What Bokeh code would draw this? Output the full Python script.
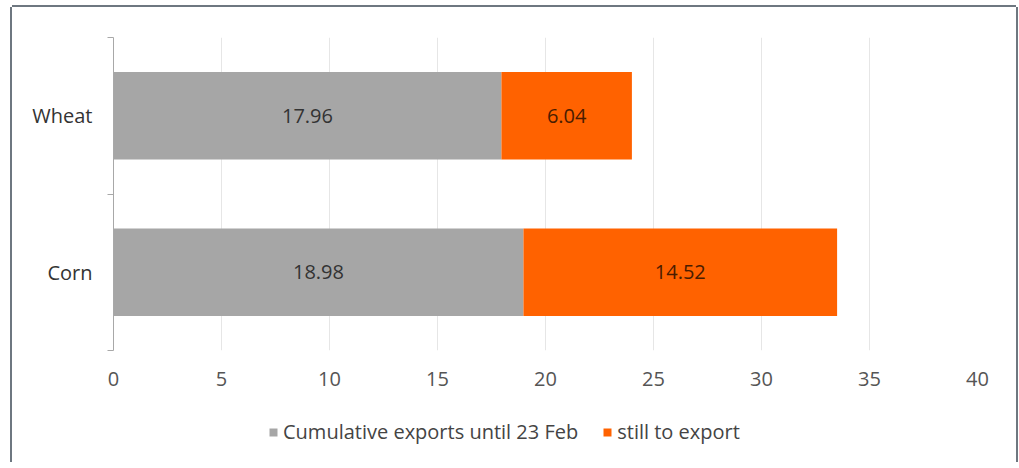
from bokeh.plotting import figure
from bokeh.layouts import column
from bokeh.models import (Range1d, LinearAxis, FixedTicker, Legend, LegendItem,
                          ColumnDataSource, LabelSet)
from bokeh.core.properties import value
from bokeh.embed import file_html
from bokeh.resources import INLINE

# ---- data ----
categories = ["Corn", "Wheat"]           # bottom to top
exported = [18.98, 17.96]                # Cumulative exports until 23 Feb
remaining = [14.52, 6.04]                # still to export
x_ticks = [0, 5, 10, 15, 20, 25, 30, 35, 40]
series_names = ["Cumulative exports until 23 Feb", "still to export"]

GREY = "#a6a6a6"
ORANGE = "#ff6200"
FONT = "Open Sans"
FS = "20px"

ypos = [i + 0.5 for i in range(len(categories))]
src = ColumnDataSource(dict(
    y=ypos,
    exp=exported,
    rem=remaining,
    total=[a + b for a, b in zip(exported, remaining)],
    exp_mid=[a / 2 for a in exported],
    rem_mid=[a + b / 2 for a, b in zip(exported, remaining)],
    exp_txt=[f"{v:.2f}" for v in exported],
    rem_txt=[f"{v:.2f}" for v in remaining],
))

W = 1004
p = figure(width=W, height=395, output_backend="svg", toolbar_location=None,
           x_range=Range1d(0, 40), y_range=Range1d(0, len(categories)),
           y_axis_location=None, x_axis_location=None,
           min_border_left=101, min_border_right=39, min_border_top=30,
           min_border_bottom=52)
p.outline_line_color = None
p.background_fill_color = "white"
p.border_fill_color = "white"

# grid
p.ygrid.visible = False
p.xgrid.ticker = FixedTicker(ticks=x_ticks)
p.xgrid.grid_line_color = "#e6e6e6"
p.xgrid.grid_line_width = 1

# bars
r1 = p.hbar(y="y", left=0, right="exp", height=0.56, source=src,
            fill_color=GREY, line_color=None)
r2 = p.hbar(y="y", left="exp", right="total", height=0.56, source=src,
            fill_color=ORANGE, line_color=None)

# value labels
for xcol, tcol, col in [("exp_mid", "exp_txt", "#333333"), ("rem_mid", "rem_txt", "#4a1c00")]:
    p.add_layout(LabelSet(x=xcol, y="y", text=tcol, source=src,
                          text_align="center", text_baseline="middle",
                          text_font=value(FONT), text_font_size=FS, text_color=col))

# x axis (labels only)
xax = LinearAxis(ticker=FixedTicker(ticks=x_ticks))
xax.axis_line_color = None
xax.major_tick_line_color = None
xax.minor_tick_line_color = None
xax.major_label_standoff = 15
xax.major_label_text_font = FONT
xax.major_label_text_font_size = FS
xax.major_label_text_color = "#555555"
p.add_layout(xax, "below")

# inner y axis: line + category-boundary ticks (no labels)
yax_ticks = LinearAxis(ticker=FixedTicker(ticks=list(range(len(categories) + 1))))
yax_ticks.axis_line_color = "#a8a8a8"
yax_ticks.major_tick_line_color = "#a8a8a8"
yax_ticks.major_tick_in = 0
yax_ticks.major_tick_out = 6
yax_ticks.minor_tick_line_color = None
yax_ticks.major_label_text_color = None
yax_ticks.major_label_standoff = 0
p.add_layout(yax_ticks, "left")

# outer y axis: category labels
yax_lab = LinearAxis(ticker=FixedTicker(ticks=ypos),
                     major_label_overrides={y: c for y, c in zip(ypos, categories)})
yax_lab.axis_line_color = None
yax_lab.major_tick_line_color = None
yax_lab.minor_tick_line_color = None
yax_lab.major_label_standoff = 9
yax_lab.major_label_text_font = FONT
yax_lab.major_label_text_font_size = FS
yax_lab.major_label_text_color = "#333333"
p.add_layout(yax_lab, "left")

# ---- legend strip (separate small figure; same series drawn off-view as legend keys) ----
LH = 60
pl = figure(width=W, height=LH, output_backend="svg", toolbar_location=None,
            x_range=Range1d(0, 40), y_range=Range1d(10, 11),
            min_border=0, min_border_left=0, min_border_right=0,
            min_border_top=0, min_border_bottom=0,
            x_axis_location=None, y_axis_location=None)
pl.outline_line_color = None
pl.xgrid.visible = False
pl.ygrid.visible = False
pl.border_fill_color = "white"
pl.background_fill_color = "white"
g1 = pl.hbar(y="y", left=0, right="exp", height=0.56, source=src,
             fill_color=GREY, line_color=None)
g2 = pl.hbar(y="y", left="exp", right="total", height=0.56, source=src,
             fill_color=ORANGE, line_color=None)
legend = Legend(items=[LegendItem(label=series_names[0], renderers=[g1]),
                       LegendItem(label=series_names[1], renderers=[g2])],
                orientation="horizontal", location=(155, 17),
                glyph_width=10, glyph_height=10, label_standoff=5, spacing=24,
                label_text_font=FONT, label_text_font_size=FS,
                label_text_color="#444444", border_line_color=None,
                background_fill_alpha=0, padding=5, margin=0, label_height=20)
pl.add_layout(legend)

frame_css = {"box-shadow": "-2px 0 0 0 #6e7780, 2px 0 0 0 #6e7780, 0 -2px 0 0 #6e7780"}
layout = column(p, pl, spacing=0, margin=(7, 0, 0, 12), styles=frame_css)

open("out.html", "w").write(file_html(layout, INLINE))
